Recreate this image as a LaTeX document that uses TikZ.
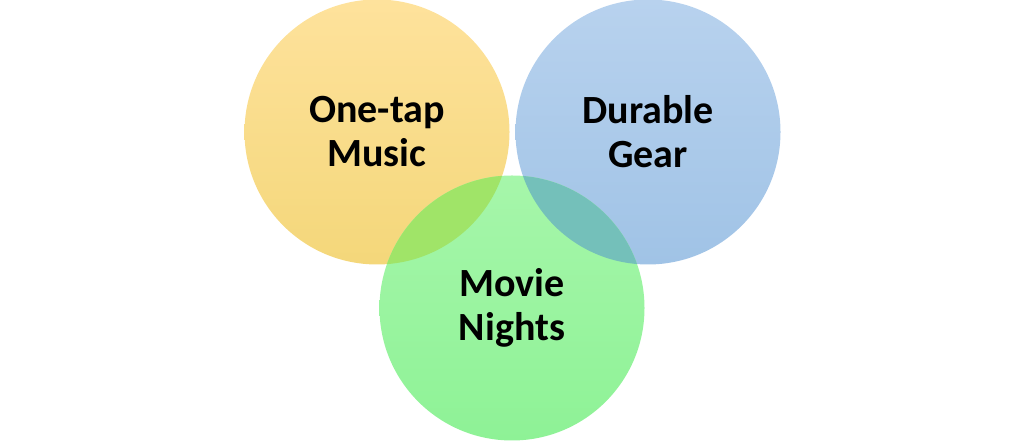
\documentclass[tikz,border=0pt]{standalone}
\usepackage{fontspec}
\setmainfont{Carlito}
\definecolor{ytop}{RGB}{254,226,156}
\definecolor{ybot}{RGB}{244,215,122}
\definecolor{btop}{RGB}{184,210,238}
\definecolor{bbot}{RGB}{160,195,230}
\definecolor{gtop}{RGB}{166,246,170}
\definecolor{gbot}{RGB}{142,242,150}
\definecolor{ygcol}{RGB}{160,228,104}
\definecolor{bgcol}{RGB}{116,192,186}
\tikzset{bubble/.style={circle,inner sep=0pt,minimum size=198.75pt,align=center,text=black,font=\fontsize{30}{33}\selectfont\bfseries}}
\tikzset{rad/.style={radius=132.5}}

\begin{document}
\begin{tikzpicture}[x=0.75pt,y=0.75pt]
\useasboundingbox (0,0) rectangle (1024,441);
\node [bubble,top color=ytop,bottom color=ybot] (music) at (377,309) {One-tap\\Music};
\node [bubble,top color=btop,bottom color=bbot] (gear) at (648,309) {Durable\\Gear};
\node [bubble,top color=gtop,bottom color=gbot] (movie) at (512,133) {Movie\\Nights};
\begin{scope}
\clip (music.center) circle [rad];
\fill [ygcol] (movie.center) circle [rad];
\end{scope}
\begin{scope}
\clip (gear.center) circle [rad];
\fill [bgcol] (movie.center) circle [rad];
\end{scope}
\end{tikzpicture}
\end{document}
